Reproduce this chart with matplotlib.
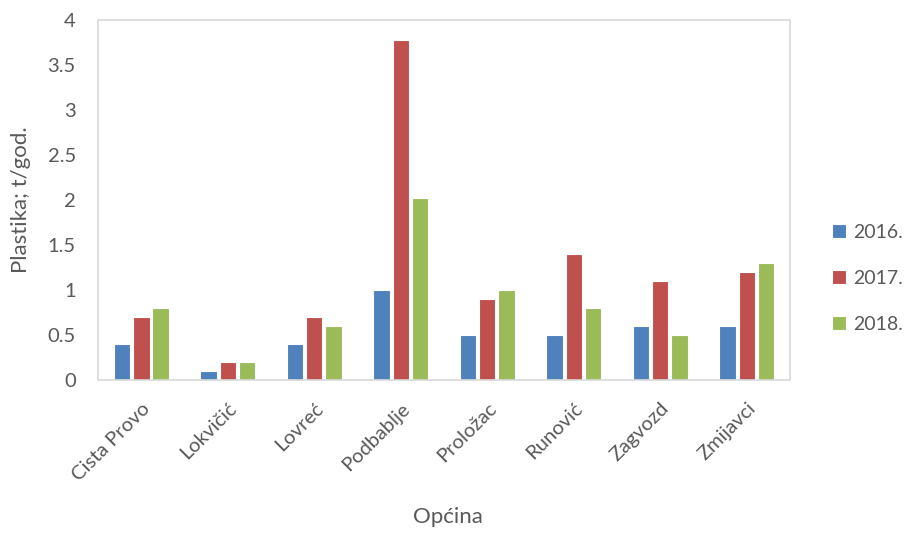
import numpy as np
import matplotlib.pyplot as plt

opcine = ['Cista Provo', 'Lokvičić', 'Lovreć', 'Podbablje', 'Proložac', 'Runović', 'Zagvozd', 'Zmijavci']
god2016 = [0.4, 0.1, 0.4, 1.0, 0.5, 0.5, 0.6, 0.6]
god2017 = [0.7, 0.2, 0.7, 3.78, 0.9, 1.4, 1.1, 1.2]
god2018 = [0.8, 0.2, 0.6, 2.02, 1.0, 0.8, 0.5, 1.3]
godine = ['2016.', '2017.', '2018.']
boje = ['#4F81BD', '#C0504D', '#9BBB59']

plt.rcParams['font.family'] = ['Lato', 'DejaVu Sans']
txt = '#595959'

fig = plt.figure(figsize=(9.08, 5.34), dpi=100)
ax = fig.add_axes([0.108, 0.288, 0.762, 0.675])

x = np.arange(len(opcine))
step = 0.223
for i, (vals, lab, c) in enumerate(zip([god2016, god2017, god2018], godine, boje)):
    ax.bar(x + (i - 1) * step, vals, width=0.19, color=c, edgecolor='white', linewidth=0.8, label=lab)

ax.set_xlim(-0.5, len(opcine) - 0.5)
ax.set_ylim(0, 4)
ax.set_yticks(np.arange(0, 4.01, 0.5))
ax.set_yticklabels(['0', '0.5', '1', '1.5', '2', '2.5', '3', '3.5', '4'])
ax.set_xticks(x)
ax.set_xticklabels(opcine, rotation=45, ha='right', rotation_mode='anchor')
ax.tick_params(length=0, labelsize=14.5, colors=txt)
ax.tick_params(axis='y', pad=16)
ax.tick_params(axis='x', pad=14)
for s in ax.spines.values():
    s.set_color('#D9D9D9')
    s.set_linewidth(1.2)

ax.set_ylabel('Plastika; t/god.', fontsize=16, color=txt, labelpad=12)
fig.text(0.493, 0.02, 'Općina', fontsize=16, color=txt, ha='center')

fig.legend(loc='center left', bbox_to_anchor=(0.908, 0.479), frameon=False, fontsize=14,
           labelcolor=txt, handlelength=0.7, handleheight=0.7, handletextpad=0.35,
           labelspacing=1.5, borderaxespad=0)

fig.savefig('out.png', dpi=100)
